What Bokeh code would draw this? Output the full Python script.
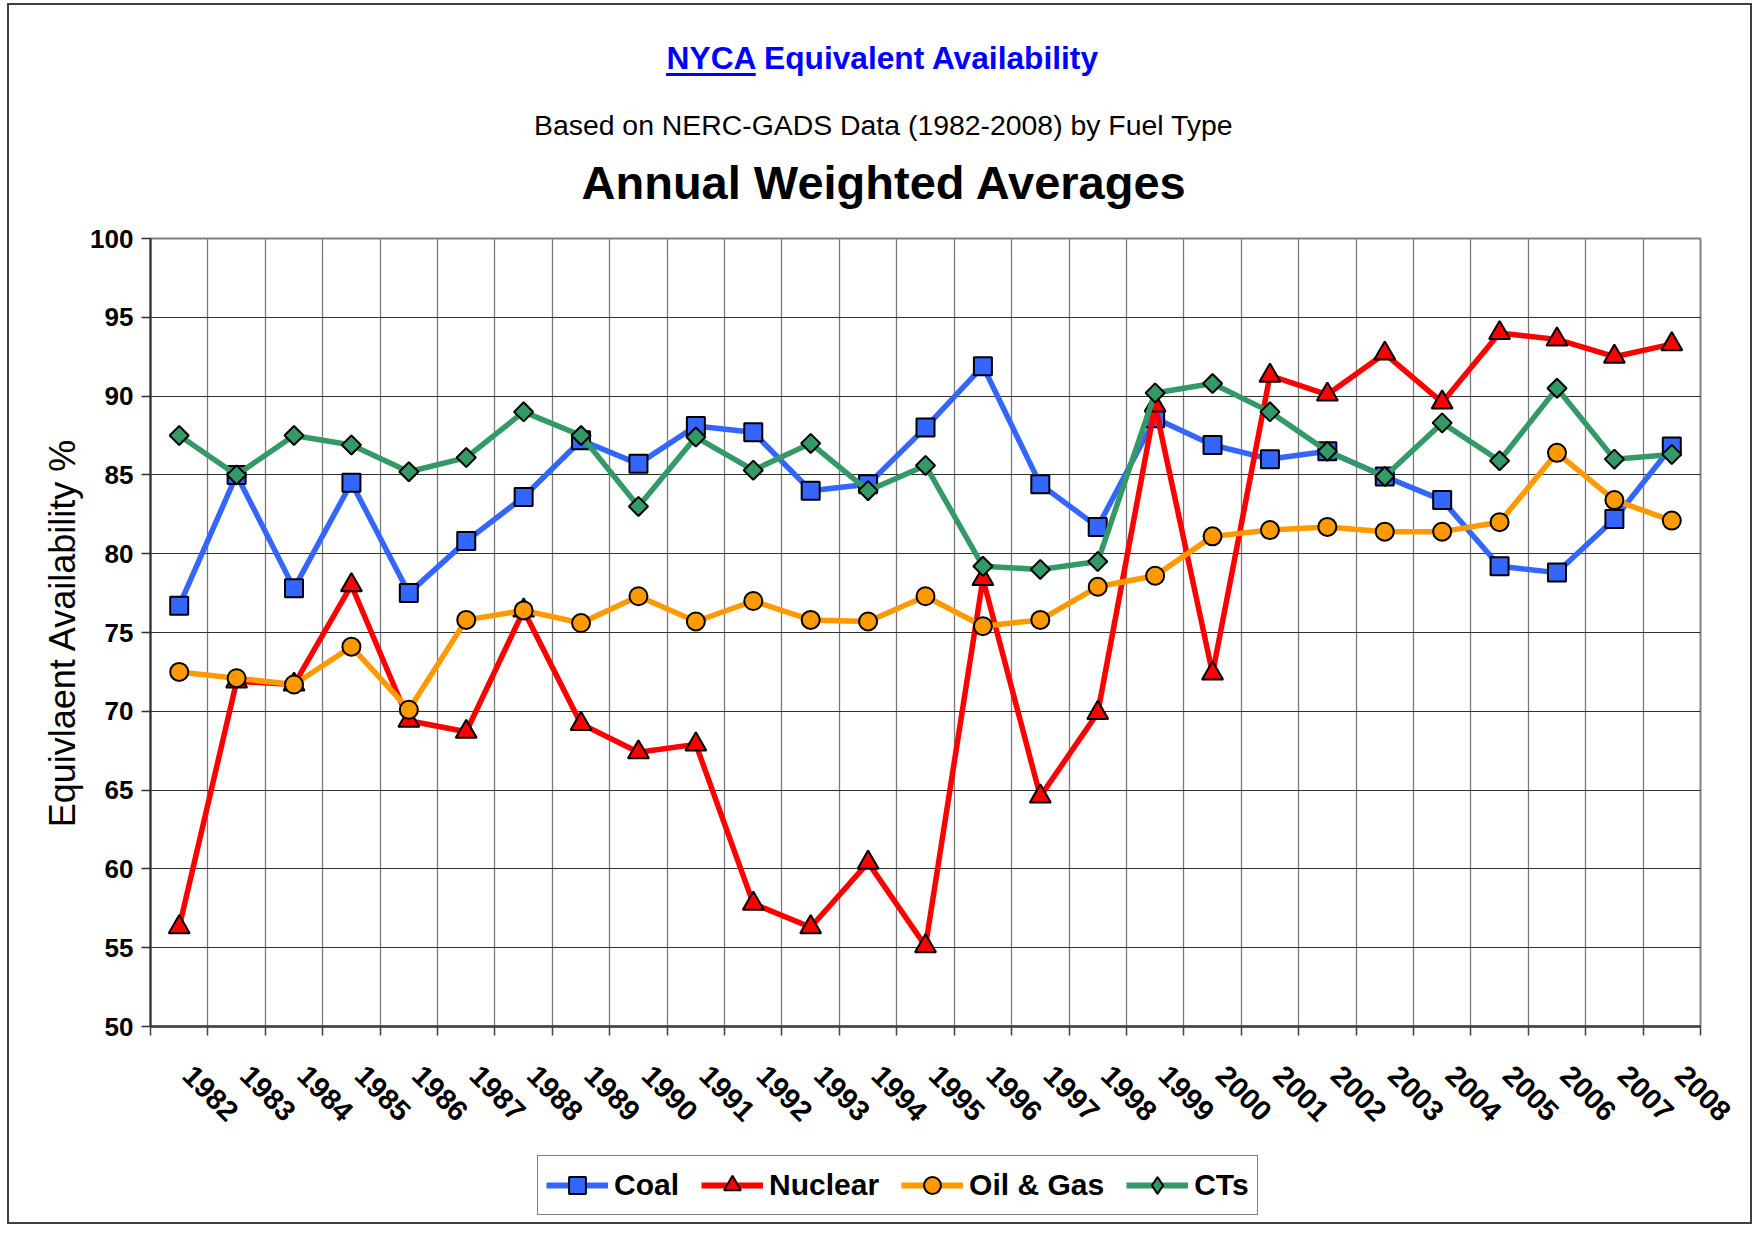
import numpy as np
from bokeh.plotting import figure
from bokeh.models import (Range1d, FixedTicker, NumeralTickFormatter, Legend, LegendItem)
from bokeh.core.properties import value
from bokeh.embed import file_html
from bokeh.resources import INLINE

# ---------------- data ----------------
years = list(range(1982, 2009))
coal = [76.7, 85.0, 77.8, 84.5, 77.5, 80.8, 83.6, 87.2, 85.7, 88.1, 87.7, 84.0, 84.4, 88.0,
        91.9, 84.4, 81.7, 88.6, 86.9, 86.0, 86.5, 84.9, 83.4, 79.2, 78.8, 82.2, 86.8]
nuclear = [56.3, 71.9, 71.7, 78.0, 69.4, 68.7, 76.4, 69.2, 67.4, 67.9, 57.8, 56.3, 60.4, 55.1,
           78.4, 64.6, 69.9, 89.4, 72.4, 91.3, 90.1, 92.7, 89.6, 94.0, 93.6, 92.5, 93.3]
oil_gas = [72.5, 72.1, 71.7, 74.1, 70.1, 75.8, 76.4, 75.6, 77.3, 75.7, 77.0, 75.8, 75.7, 77.3,
           75.4, 75.8, 77.9, 78.6, 81.1, 81.5, 81.7, 81.4, 81.4, 82.0, 86.4, 83.4, 82.1]
cts = [87.5, 85.0, 87.5, 86.9, 85.2, 86.1, 89.0, 87.5, 83.0, 87.4, 85.3, 87.0, 84.0, 85.6,
       79.2, 79.0, 79.5, 90.2, 90.8, 89.0, 86.5, 84.9, 88.3, 85.9, 90.5, 86.0, 86.3]
series_names = ["Coal", "Nuclear", "Oil & Gas", "CTs"]
y_ticks = list(range(50, 101, 5))

title_1 = "NYCA Equivalent Availability"
title_2 = "Based on NERC-GADS Data (1982-2008) by Fuel Type"
title_3 = "Annual Weighted Averages"
y_label = "Equivlaent Availability %"

FONT = "Liberation Sans"
W = 1745
HEAD_H = 215
MAIN_H = 930
FOOT_H = 76
BORDER = "2px solid #404040"

# series styles: (values, colour, plot marker, size, angle, legend marker, legend size)
specs = [
    (coal, "#3366FF", "square", 18, 0.0, "square", 16),
    (nuclear, "#FF0000", "triangle", 21, 0.0, "triangle", 20),
    (oil_gas, "#FF9900", "circle", 18, 0.0, "circle", 16),
    (cts, "#339966", "square", 13.5, np.pi / 4, "diamond", 23),
]

# ---------------- header (titles) ----------------
head = figure(width=W, height=HEAD_H, output_backend="svg", toolbar_location=None,
              x_range=Range1d(0, W), y_range=Range1d(0, HEAD_H),
              x_axis_type=None, y_axis_type=None, min_border=0)
head.outline_line_color = None
head.grid.visible = False
head.styles = {"margin-left": "7px", "margin-top": "3px", "border-top": BORDER,
               "border-left": BORDER, "border-right": BORDER}

cx = 874
fs1 = 31.7
head.text(x=[cx], y=[163], text=[title_1], text_align="center", text_baseline="middle",
          text_font=value(FONT), text_font_size=f"{fs1}px", text_font_style="bold",
          text_color="#0000FF")
# underline of the "NYCA" link (Arial-metric widths: full title 13.726 em, "NYCA" 2.833 em)
left1 = cx - 13.726 * fs1 / 2
head.hbar(y=[146], left=[left1], right=[left1 + 2.833 * fs1], height=3,
          fill_color="#0000FF", line_color=None)
head.text(x=[cx], y=[96], text=[title_2], text_align="center", text_baseline="middle",
          text_font=value(FONT), text_font_size="28.4px", text_font_style="normal",
          text_color="black")
head.text(x=[cx + 1], y=[38], text=[title_3], text_align="center", text_baseline="middle",
          text_font=value(FONT), text_font_size="47px", text_font_style="bold",
          text_color="black")

# ---------------- main chart ----------------
p = figure(width=W, height=MAIN_H, output_backend="svg", toolbar_location=None,
           x_range=Range1d(years[0] - 0.5, years[-1] + 0.5), y_range=Range1d(50, 100),
           min_border_left=141, min_border_right=54, min_border_top=20, min_border_bottom=122)
p.styles = {"margin-left": "7px", "border-left": BORDER, "border-right": BORDER}
p.background_fill_color = "white"
p.border_fill_color = "white"
p.outline_line_color = "#808080"
p.outline_line_width = 2

boundaries = [y - 0.5 for y in years] + [years[-1] + 0.5]
label_pos = [y + 0.15 for y in years]   # rotated year labels start just right of each point

p.xgrid.ticker = FixedTicker(ticks=boundaries)
p.xgrid.grid_line_color = "#7a7a7a"
p.xgrid.grid_line_width = 1.3
p.ygrid.ticker = FixedTicker(ticks=y_ticks)
p.ygrid.grid_line_color = "#303030"
p.ygrid.grid_line_width = 1.2

xa = p.xaxis[0]
xa.ticker = FixedTicker(ticks=label_pos, minor_ticks=boundaries)
xa.formatter = NumeralTickFormatter(format="0")
xa.major_tick_out = 0
xa.major_tick_in = 0
xa.minor_tick_out = 9
xa.minor_tick_in = 0
xa.minor_tick_line_color = "#404040"
xa.minor_tick_line_width = 1.5
xa.axis_line_color = "#404040"
xa.axis_line_width = 2.5
xa.major_label_orientation = -np.pi / 4
xa.major_label_text_font = FONT
xa.major_label_text_font_style = "bold"
xa.major_label_text_font_size = "29px"
xa.major_label_text_color = "black"
xa.major_label_standoff = 35

ya = p.yaxis[0]
ya.ticker = FixedTicker(ticks=y_ticks)
ya.major_tick_out = 9
ya.major_tick_in = 0
ya.major_tick_line_color = "#303030"
ya.major_tick_line_width = 1.5
ya.minor_tick_out = 0
ya.minor_tick_in = 0
ya.axis_line_color = "#303030"
ya.axis_line_width = 2
ya.major_label_text_font = FONT
ya.major_label_text_font_style = "bold"
ya.major_label_text_font_size = "26px"
ya.major_label_text_color = "black"
ya.major_label_standoff = 8
ya.axis_label = y_label
ya.axis_label_text_font = FONT
ya.axis_label_text_font_style = "normal"
ya.axis_label_text_font_size = "36px"
ya.axis_label_text_color = "black"
ya.axis_label_standoff = 4

for vals, col, marker, size, ang, _, _ in specs:
    p.line(years, vals, line_color=col, line_width=5.5)
    p.scatter(years, vals, marker=marker, size=size, angle=ang,
              fill_color=col, line_color="black", line_width=2)

# ---------------- footer (legend) ----------------
# the legend keys use renderers of the same series; their data lies outside this
# strip's visible range, so only the legend box is seen here.
foot = figure(width=W, height=FOOT_H, output_backend="svg", toolbar_location=None,
              x_range=Range1d(0, W), y_range=Range1d(0, FOOT_H),
              x_axis_type=None, y_axis_type=None, min_border=0)
foot.outline_line_color = None
foot.grid.visible = False
foot.styles = {"margin-left": "7px", "border-bottom": BORDER,
               "border-left": BORDER, "border-right": BORDER}

items = []
for name, (vals, col, _, _, _, lmarker, lsize) in zip(series_names, specs):
    lr = foot.line(years, vals, line_color=col, line_width=6)
    sr = foot.scatter(years, vals, marker=lmarker, size=lsize,
                      fill_color=col, line_color="black", line_width=2)
    items.append(LegendItem(label=name, renderers=[lr, sr]))

legend = Legend(items=items, orientation="horizontal", location=(528, 9))
legend.label_text_font = FONT
legend.label_text_font_style = "bold"
legend.label_text_font_size = "30px"
legend.label_text_color = "black"
legend.label_standoff = 6
legend.spacing = 22
legend.padding = 8
legend.glyph_width = 62
legend.glyph_height = 42
legend.label_height = 42
legend.border_line_color = "black"
legend.border_line_width = 1.5
legend.background_fill_color = "white"
legend.background_fill_alpha = 1.0
legend.margin = 0
foot.add_layout(legend, "center")

open("out.html", "w").write(file_html([head, p, foot], INLINE))
